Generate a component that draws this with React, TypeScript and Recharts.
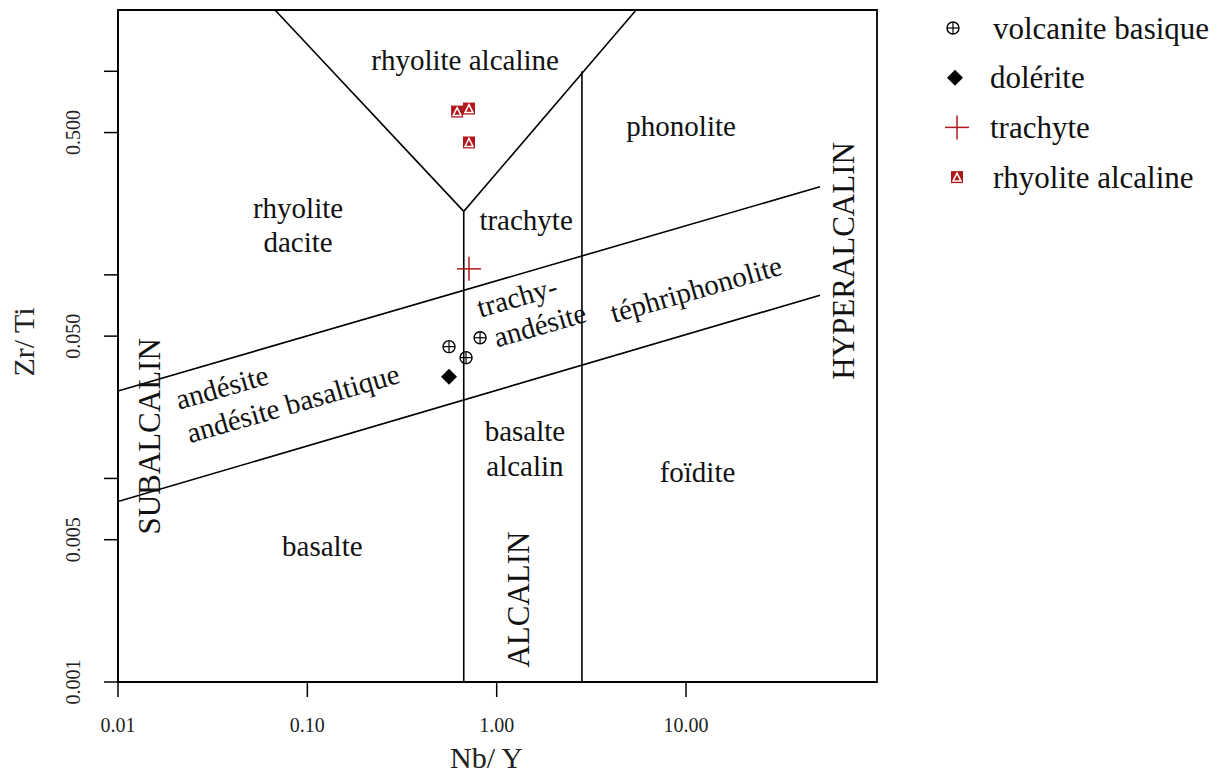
import {
  ScatterChart,
  Scatter,
  XAxis,
  YAxis,
  ReferenceLine,
  ReferenceArea,
  ReferenceDot,
  Label,
} from "recharts";

// Nb/Y vs Zr/Ti samples
const volcaniteBasique = [
  { x: 0.56, y: 0.0444 },
  { x: 0.689, y: 0.0392 },
  { x: 0.817, y: 0.0491 },
];
const dolerite = [{ x: 0.56, y: 0.0316 }];
const trachyte = [{ x: 0.714, y: 0.107 }];
const rhyoliteAlcaline = [
  { x: 0.618, y: 0.634 },
  { x: 0.714, y: 0.656 },
  { x: 0.714, y: 0.447 },
];

const xDomain = [0.01, 102];
const yDomain = [0.001, 2];
const xTicks = [0.01, 0.1, 1, 10];
const xTickLabels: Record<string, string> = { "0.01": "0.01", "0.1": "0.10", "1": "1.00", "10": "10.00" };
const yTicks = [0.001, 0.005, 0.01, 0.05, 0.1, 0.5, 1];
const yTickLabels: Record<string, string> = { "0.001": "0.001", "0.005": "0.005", "0.05": "0.050", "0.5": "0.500" };

// field boundaries [x1, y1, x2, y2]
const boundaries = [
  [0.01, 0.0269, 51, 0.271],
  [0.01, 0.0077, 51, 0.0794],
  [0.67, 0.001, 0.67, 0.205],
  [0.67, 0.205, 0.0675, 2],
  [0.67, 0.205, 5.45, 2],
  [2.82, 0.001, 2.82, 1.0],
];

// field names: text, x, y, angle, font size
const fieldLabels: [string, number, number, number, number][] = [
  ["rhyolite alcaline", 0.681, 1.13, 0, 29],
  ["phonolite", 9.42, 0.536, 0, 29],
  ["rhyolite", 0.0893, 0.214, 0, 29],
  ["dacite", 0.0893, 0.1456, 0, 29],
  ["trachyte", 1.43, 0.1866, 0, 29],
  ["trachy-", 1.28, 0.078, -16, 29],
  ["andésite", 1.69, 0.0568, -16, 29],
  ["téphriphonolite", 11.3, 0.0853, -16, 29],
  ["andésite", 0.0354, 0.0281, -16, 29],
  ["andésite basaltique", 0.0839, 0.0234, -16, 29],
  ["basalte", 1.41, 0.0171, 0, 29],
  ["alcalin", 1.41, 0.01146, 0, 29],
  ["foïdite", 11.5, 0.0108, 0, 29],
  ["basalte", 0.12, 0.00468, 0, 29],
  ["SUBALCALIN", 0.0146, 0.0161, -90, 31],
  ["ALCALIN", 1.31, 0.00254, -90, 31],
  ["HYPERALCALIN", 67.6, 0.117, -90, 31],
];

const RED = "#b0181c";
const FONT = "'Liberation Serif', 'Times New Roman', serif";

function CrossCircle({ cx, cy }: any) {
  return (
    <g>
      <circle cx={cx} cy={cy} r={6} fill="none" stroke="#000" strokeWidth={1.4} />
      <line x1={cx - 6} y1={cy} x2={cx + 6} y2={cy} stroke="#000" strokeWidth={1.2} />
      <line x1={cx} y1={cy - 6} x2={cx} y2={cy + 6} stroke="#000" strokeWidth={1.2} />
    </g>
  );
}

function Diamond({ cx, cy }: any) {
  return (
    <polygon
      points={`${cx},${cy - 8} ${cx + 8},${cy} ${cx},${cy + 8} ${cx - 8},${cy}`}
      fill="#000"
    />
  );
}

function Plus({ cx, cy }: any) {
  return (
    <g stroke={RED} strokeWidth={1.5}>
      <line x1={cx - 12} y1={cy} x2={cx + 12} y2={cy} />
      <line x1={cx} y1={cy - 12} x2={cx} y2={cy + 12} />
    </g>
  );
}

function SquareTri({ cx, cy }: any) {
  return (
    <g>
      <rect x={cx - 6} y={cy - 6} width={12} height={12} fill={RED} />
      <polygon
        points={`${cx - 4},${cy + 4} ${cx + 4},${cy + 4} ${cx},${cy - 4}`}
        fill="none"
        stroke="#fff"
        strokeWidth={1.5}
      />
    </g>
  );
}

const legendItems = [
  { name: "volcanite basique", Icon: CrossCircle, dx: 23, tx: 63 },
  { name: "dolérite", Icon: Diamond, dx: 25, tx: 60 },
  { name: "trachyte", Icon: Plus, dx: 27, tx: 60 },
  { name: "rhyolite alcaline", Icon: SquareTri, dx: 27, tx: 63 },
];

function XTick({ x, y, payload }: any) {
  const t = xTickLabels[String(payload.value)];
  if (!t) return null;
  return (
    <text x={x} y={y + 35} textAnchor="middle" fontSize={20} fill="#222" fontFamily={FONT}>
      {t}
    </text>
  );
}

function YTick({ x, y, payload }: any) {
  const t = yTickLabels[String(payload.value)];
  if (!t) return null;
  const bx = x - 24;
  return (
    <text
      x={bx}
      y={y}
      transform={`rotate(-90 ${bx} ${y})`}
      textAnchor="middle"
      fontSize={20}
      fill="#222"
      fontFamily={FONT}
    >
      {t}
    </text>
  );
}

export default function App() {
  return (
    <div style={{ position: "absolute", left: 0, top: 0, width: 1228, height: 776, background: "#fff" }}>
      <ScatterChart
        width={1228}
        height={776}
        margin={{ top: 10, right: 351, bottom: 0, left: 0 }}
        style={{ fontFamily: FONT }}
      >
        <XAxis
          type="number"
          dataKey="x"
          scale="log"
          domain={xDomain}
          ticks={xTicks}
          allowDataOverflow
          height={94}
          tickSize={15}
          tickMargin={0}
          tick={<XTick />}
          stroke="#000"
          tickLine={{ stroke: "#000", strokeWidth: 1.5 }}
          axisLine={{ stroke: "#000", strokeWidth: 1.5 }}
        >
          <Label
            content={({ viewBox }: any) => (
              <text
                x={viewBox.x + viewBox.width / 2 - 11}
                y={viewBox.y + viewBox.height - 8}
                textAnchor="middle"
                fontSize={30}
                fill="#222"
                fontFamily={FONT}
              >
                Nb/ Y
              </text>
            )}
          />
        </XAxis>
        <YAxis
          type="number"
          dataKey="y"
          scale="log"
          domain={yDomain}
          ticks={yTicks}
          allowDataOverflow
          width={118}
          tickSize={14}
          tickMargin={0}
          tick={<YTick />}
          stroke="#000"
          tickLine={{ stroke: "#000", strokeWidth: 1.5 }}
          axisLine={{ stroke: "#000", strokeWidth: 1.5 }}
        >
          <Label
            content={({ viewBox }: any) => {
              const bx = 34;
              const cy = viewBox.y + viewBox.height / 2 - 4;
              return (
                <text
                  x={bx}
                  y={cy}
                  transform={`rotate(-90 ${bx} ${cy})`}
                  textAnchor="middle"
                  fontSize={30}
                  fill="#222"
                  fontFamily={FONT}
                >
                  Zr/ Ti
                </text>
              );
            }}
          />
        </YAxis>

        <ReferenceArea
          x1={xDomain[0]}
          x2={xDomain[1]}
          y1={yDomain[0]}
          y2={yDomain[1]}
          fill="none"
          stroke="#000"
          strokeWidth={1.8}
          ifOverflow="visible"
        />

        {boundaries.map((b, i) => (
          <ReferenceLine
            key={i}
            segment={[
              { x: b[0], y: b[1] },
              { x: b[2], y: b[3] },
            ]}
            stroke="#000"
            strokeWidth={1.6}
            ifOverflow="visible"
          />
        ))}

        {fieldLabels.map(([text, x, y, angle, size], i) => (
          <ReferenceDot
            key={"l" + i}
            x={x}
            y={y}
            r={0}
            ifOverflow="visible"
            shape={(p: any) => (
              <text
                x={p.cx}
                y={p.cy}
                transform={angle ? `rotate(${angle} ${p.cx} ${p.cy})` : undefined}
                textAnchor="middle"
                dominantBaseline="central"
                fontSize={size}
                fill="#111"
                fontFamily={FONT}
              >
                {text}
              </text>
            )}
          />
        ))}

        <Scatter name="volcanite basique" data={volcaniteBasique} shape={<CrossCircle />} isAnimationActive={false} />
        <Scatter name="dolérite" data={dolerite} shape={<Diamond />} isAnimationActive={false} />
        <Scatter name="trachyte" data={trachyte} shape={<Plus />} isAnimationActive={false} />
        <Scatter name="rhyolite alcaline" data={rhyoliteAlcaline} shape={<SquareTri />} isAnimationActive={false} />
      </ScatterChart>

      <svg
        width={298}
        height={210}
        style={{ position: "absolute", left: 930, top: 0 }}
      >
        {legendItems.map(({ name, Icon, dx, tx }, i) => {
          const cy = 28 + i * 49.7;
          return (
            <g key={name}>
              <Icon cx={dx} cy={cy} />
              <text
                x={tx}
                y={cy}
                dominantBaseline="central"
                fontSize={31}
                fill="#111"
                fontFamily={FONT}
              >
                {name}
              </text>
            </g>
          );
        })}
      </svg>
    </div>
  );
}
